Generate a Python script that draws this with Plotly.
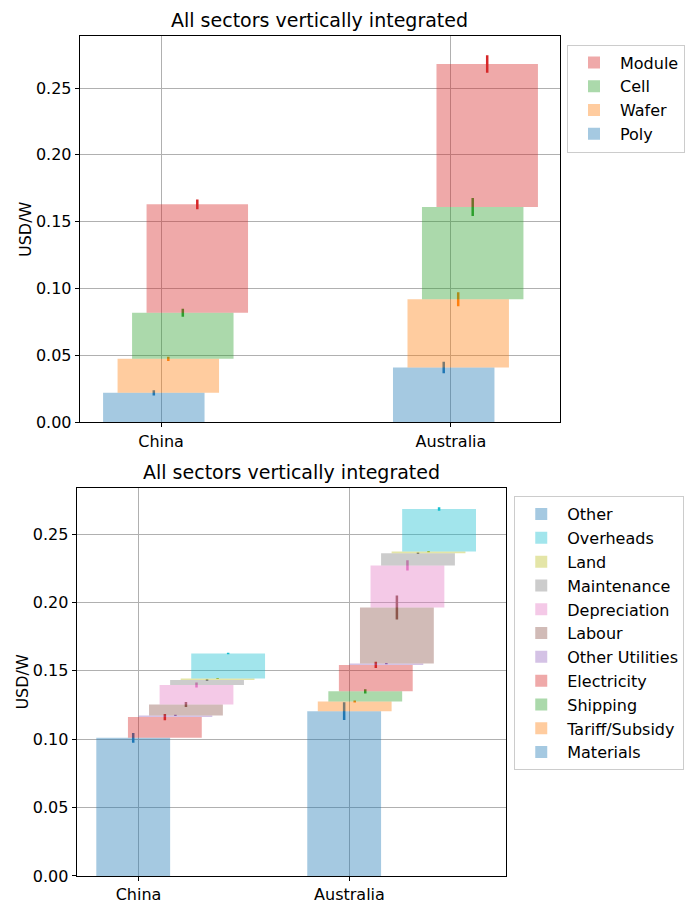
import plotly.graph_objects as go

# Countries on the category axis
countries = ["China", "Australia"]
country_pos = [0, 1]

# Upper panel: cost added at each supply-chain stage (USD/W)
stage_names = ["Poly", "Wafer", "Cell", "Module"]
stage_china = [0.022, 0.0255, 0.0345, 0.081]
stage_australia = [0.041, 0.051, 0.069, 0.107]
stage_err_china = [0.002, 0.0016, 0.003, 0.0036]
stage_err_australia = [0.0043, 0.0053, 0.0068, 0.0066]

# Lower panel: cost added by each cost category (USD/W)
cost_names = ["Materials", "Tariff/Subsidy", "Shipping", "Electricity",
              "Other Utilities", "Labour", "Depreciation", "Maintenance",
              "Land", "Overheads", "Other"]
cost_china = [0.101, 0.0, 0.0, 0.0152, 0.0012, 0.008, 0.0142, 0.0036,
              0.0012, 0.0183, 0.0]
cost_australia = [0.1205, 0.0071, 0.0074, 0.0193, 0.001, 0.041, 0.0308,
                  0.0089, 0.0012, 0.0311, 0.0]
cost_err_china = [0.0036, 0.0, 0.0, 0.0023, 0.0005, 0.0018, 0.0018,
                  0.0006, 0.0003, 0.0005, 0.0]
cost_err_australia = [0.0065, 0.0007, 0.0015, 0.0023, 0.0005, 0.0087,
                      0.0038, 0.0006, 0.0004, 0.0013, 0.0]

TAB10 = [(31, 119, 180), (255, 127, 14), (44, 160, 44), (214, 39, 40),
         (148, 103, 189), (140, 86, 75), (227, 119, 194), (127, 127, 127),
         (188, 189, 34), (23, 190, 207)]

FONT = "DejaVu Sans"
BAR_WIDTH = 0.35
FIRST_OFFSET = -0.2
STEP = 0.05


def rgba(c, a):
    return "rgba(%d,%d,%d,%s)" % (c[0], c[1], c[2], a)


fig = go.Figure()


def add_waterfall(names, china, australia, err_c, err_a, xref, yref, legend):
    base_c, base_a = 0.0, 0.0
    for i, name in enumerate(names):
        col = TAB10[i % len(TAB10)]
        fig.add_trace(go.Bar(
            x=country_pos,
            y=[china[i], australia[i]],
            base=[base_c, base_a],
            width=BAR_WIDTH,
            offset=FIRST_OFFSET + STEP * i,
            name=name,
            marker=dict(color=rgba(col, 0.4), line=dict(width=0)),
            error_y=dict(type="data", array=[err_c[i], err_a[i]],
                         color=rgba(col, 1), thickness=2.5, width=0),
            xaxis=xref, yaxis=yref, legend=legend,
            hoverinfo="name+y",
        ))
        base_c += china[i]
        base_a += australia[i]


add_waterfall(stage_names, stage_china, stage_australia,
              stage_err_china, stage_err_australia, "x", "y", "legend")
add_waterfall(cost_names, cost_china, cost_australia,
              cost_err_china, cost_err_australia, "x2", "y2", "legend2")

axis_common = dict(
    showline=True, linecolor="black", linewidth=1.3, mirror=True,
    showgrid=True, gridcolor="#b0b0b0", gridwidth=1.2,
    ticks="outside", ticklen=4, tickcolor="black",
    tickfont=dict(family=FONT, size=16, color="black"),
    zeroline=False,
)

W, H = 685, 906
legend_common = dict(
    xanchor="left", yanchor="top", traceorder="reversed",
    bgcolor="white", bordercolor="#cccccc", borderwidth=1,
    font=dict(family=FONT, size=16, color="black"),
    tracegroupgap=0, itemwidth=42,
)

fig.update_layout(
    width=W, height=H,
    margin=dict(l=0, r=0, t=0, b=0),
    paper_bgcolor="white", plot_bgcolor="white",
    barmode="overlay",
    font=dict(family=FONT, size=16, color="black"),
    xaxis=dict(axis_common, domain=[80 / W, 560.5 / W], anchor="y",
               range=[-0.28, 1.375], tickvals=country_pos, ticktext=countries),
    yaxis=dict(axis_common, domain=[1 - 427 / H, 1 - 36.7 / H], anchor="x",
               range=[0, 0.2887], dtick=0.05, tickformat=".2f",
               title=dict(text="USD/W", font=dict(family=FONT, size=16),
                          standoff=0)),
    xaxis2=dict(axis_common, domain=[76.9 / W, 506.8 / W], anchor="y2",
                range=[-0.2925, 1.7425], tickvals=country_pos,
                ticktext=countries),
    yaxis2=dict(axis_common, domain=[1 - 885.7 / H, 1 - 493.3 / H],
                anchor="x2", range=[0, 0.2838], dtick=0.05, tickformat=".2f",
                title=dict(text="USD/W", font=dict(family=FONT, size=16),
                           standoff=0)),
    legend=dict(legend_common, x=568 / W, y=1 - 45 / H),
    legend2=dict(legend_common, x=515 / W, y=1 - 501.7 / H),
    annotations=[
        dict(text="All sectors vertically integrated", xref="paper",
             yref="paper", x=320 / W, y=1 - 20.7 / H, xanchor="center",
             yanchor="middle", showarrow=False,
             font=dict(family=FONT, size=19, color="black")),
        dict(text="All sectors vertically integrated", xref="paper",
             yref="paper", x=291.9 / W, y=1 - 477.3 / H, xanchor="center",
             yanchor="middle", showarrow=False,
             font=dict(family=FONT, size=19, color="black")),
    ],
)

fig.write_html("out.html")
